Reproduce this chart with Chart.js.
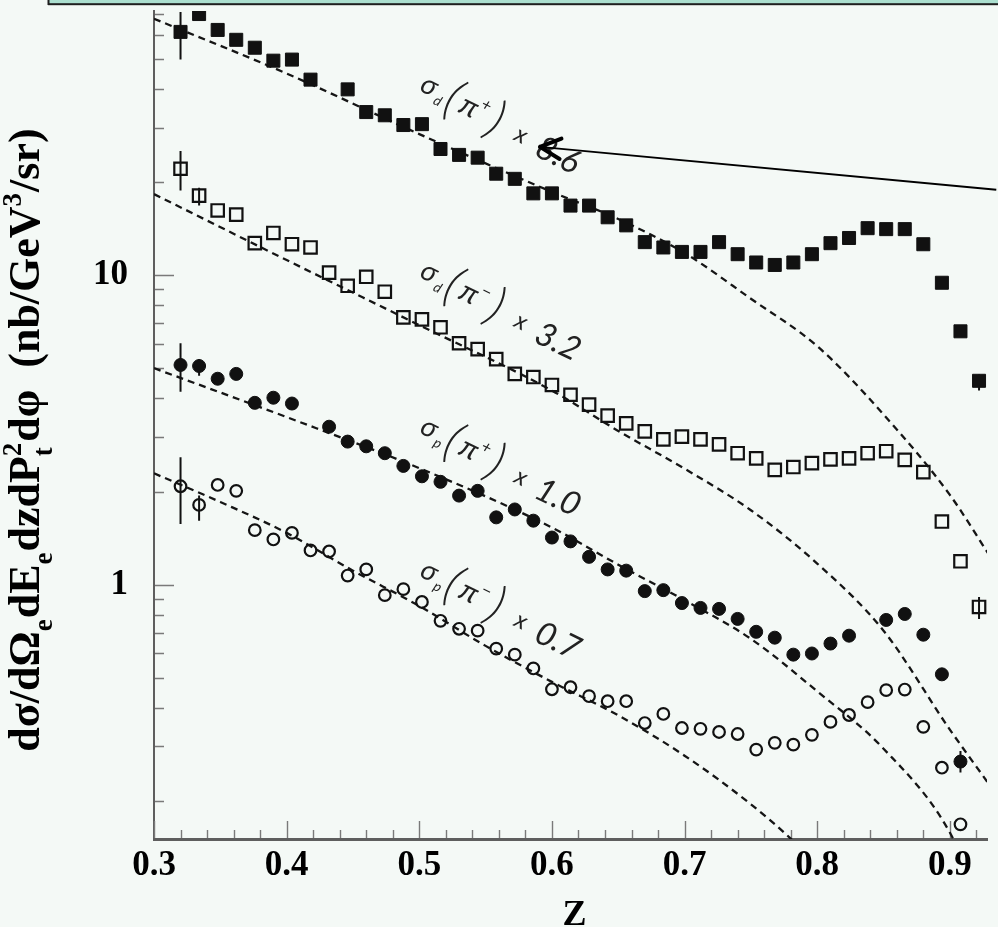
<!DOCTYPE html>
<html>
<head>
<meta charset="utf-8">
<title>Pion cross sections vs z</title>
<script src="https://cdn.jsdelivr.net/npm/chart.js@4.4.1/dist/chart.umd.min.js"></script>
<style>
  html, body { margin: 0; padding: 0; background: #f4f9f6; overflow: hidden; }
  #wrap { width: 998px; height: 927px; position: relative; }
  canvas { display: block; }
</style>
</head>
<body>
<div id="wrap"><canvas id="zChart" width="998" height="927"></canvas></div>
<script>
// z bins shared by the four measured sets
const zBins = [0.320, 0.334, 0.348, 0.362, 0.376, 0.390, 0.404, 0.418, 0.432, 0.446,
  0.460, 0.474, 0.488, 0.502, 0.516, 0.530, 0.544, 0.558, 0.572, 0.586,
  0.600, 0.614, 0.628, 0.642, 0.656, 0.670, 0.684, 0.698, 0.712, 0.726,
  0.740, 0.754, 0.768, 0.782, 0.796, 0.810, 0.824, 0.838, 0.852, 0.866,
  0.880, 0.894, 0.908, 0.922];

// sigma_d(pi+) x 8.6  (filled squares)
const sigmaDPiPlus = [61.2, 69.9, 62.1, 57.7, 54.4, 49.4, 49.8, 42.9, null, 39.9,
  33.7, 32.9, 30.6, 30.8, 25.6, 24.5, 24.0, 21.3, 20.5, 18.4,
  18.4, 16.8, 16.8, 15.4, 14.5, 12.8, 12.3, 11.9, 11.9, 12.8,
  11.7, 11.0, 10.8, 11.0, 11.7, 12.7, 13.2, 14.2, 14.1, 14.1,
  12.6, 9.46, 6.59, 4.56];

// sigma_d(pi-) x 3.2  (open squares)
const sigmaDPiMinus = [22.1, 18.1, 16.2, 15.7, 12.7, 13.7, 12.6, 12.3, 10.2, 9.25,
  9.89, 8.85, 7.31, 7.20, 6.79, 6.03, 5.77, 5.36, 4.80, 4.69,
  4.42, 4.11, 3.82, 3.52, 3.32, 3.13, 2.95, 3.01, 2.95, 2.84,
  2.66, 2.56, 2.35, 2.40, 2.47, 2.54, 2.56, 2.66, 2.70, 2.53,
  2.31, 1.60, 1.19, 0.847];

// sigma_p(pi+) x 1.0  (filled circles)
const sigmaPPiPlus = [5.13, 5.09, 4.63, 4.80, 3.87, 4.02, 3.85, null, 3.24, 2.90,
  2.80, 2.66, 2.42, 2.24, 2.15, 1.94, 2.01, 1.65, 1.75, 1.61,
  1.42, 1.38, 1.23, 1.12, 1.11, 0.953, 0.960, 0.872, 0.841, 0.835,
  0.775, 0.704, 0.674, 0.594, 0.599, 0.645, 0.684, null, 0.769, 0.804,
  0.689, 0.513, 0.268, null];

// sigma_p(pi-) x 0.7  (open circles)
const sigmaPPiMinus = [2.08, 1.81, 2.10, 2.01, 1.50, 1.40, 1.47, 1.29, 1.28, 1.07,
  1.12, 0.925, 0.967, 0.879, 0.764, 0.720, 0.710, 0.621, 0.594, 0.536,
  0.459, 0.466, 0.436, 0.420, 0.420, 0.357, 0.382, 0.344, 0.342, 0.334,
  0.329, 0.293, 0.308, 0.304, 0.327, 0.360, 0.379, 0.417, 0.456, 0.458,
  0.347, 0.256, 0.168, null];

// error bars that stick out of the markers: [set, bin, low, high]
const errorBars = [
  [0, 0, 49.8, 71.0], [0, 43, 4.24, 4.78],
  [1, 0, 18.8, 25.2], [1, 1, 16.8, 19.2], [1, 43, 0.775, 0.912],
  [2, 0, 4.20, 6.03], [2, 1, 4.73, 5.36], [2, 42, 0.247, 0.290],
  [3, 0, 1.57, 2.58], [3, 1, 1.61, 1.94]
];

// dashed model curves
const fitDPlusZ = [0.30, 0.40, 0.50, 0.60, 0.65, 0.70, 0.75, 0.80, 0.85, 0.90, 0.93];
const fitDPlusVal = [67.5, 44.9, 28.6, 18.6, 15.2, 11.8, 8.4, 5.9, 3.55, 1.95, 1.24];
const fitDMinusZ = [0.30, 0.40, 0.50, 0.60, 0.65, 0.70, 0.75, 0.80, 0.85, 0.90, 0.93];
const fitDMinusVal = [18.3, 11.2, 6.90, 4.24, 3.14, 2.37, 1.74, 1.17, 0.71, 0.34, 0.225];
const fitPPlusZ = [0.30, 0.40, 0.50, 0.60, 0.65, 0.70, 0.75, 0.80, 0.85, 0.90, 0.92];
const fitPPlusVal = [5.01, 3.48, 2.38, 1.53, 1.16, 0.89, 0.668, 0.452, 0.295, 0.158, 0.10];
const fitPMinusZ = [0.30, 0.35, 0.40, 0.45, 0.50, 0.55, 0.60, 0.65, 0.70, 0.75, 0.78, 0.80];
const fitPMinusVal = [2.29, 1.85, 1.47, 1.11, 0.853, 0.634, 0.485, 0.378, 0.280, 0.195, 0.151, 0.123];

// axis ticks
const xTickValues = [0.3, 0.4, 0.5, 0.6, 0.7, 0.8, 0.9];
const xTickLabels = ['0.3', '0.4', '0.5', '0.6', '0.7', '0.8', '0.9'];
const yTickValues = [1, 10];
const yTickLabels = ['1', '10'];

// curve labels: sub index, charge, scale factor, anchor (z, value)
const curveLabels = [
  ['d', '+', '8.6', 0.507, 40.5],
  ['d', '−', '3.2', 0.507, 10.1],
  ['p', '+', '1.0', 0.507, 3.17],
  ['p', '−', '0.7', 0.507, 1.09]
];
// arrow pointing at the first label: tip and tail as (z, value)
const arrowTip = [0.591, 26.0];
const arrowTail = [0.935, 18.9];

const SERIF = '"Liberation Serif", "Times New Roman", serif';
const BG = '#f4f9f6';

function toPoints(values) {
  return zBins.map((z, i) => ({ x: z, y: values[i] })).filter(p => p.y !== null);
}
function curvePoints(zs, vals) {
  return zs.map((z, i) => ({ x: z, y: vals[i] }));
}

function markerSet(values, style, filled, radius) {
  return {
    type: 'scatter',
    data: toPoints(values),
    pointStyle: style,
    pointRadius: radius,
    pointHoverRadius: radius,
    pointBackgroundColor: filled ? '#111' : 'rgba(0,0,0,0)',
    pointBorderColor: '#111',
    pointBorderWidth: filled ? 1 : 2.2,
    showLine: false
  };
}
function dashedCurve(zs, vals) {
  return {
    type: 'line',
    data: curvePoints(zs, vals),
    borderColor: '#151515',
    borderWidth: 2.3,
    borderDash: [7, 5],
    pointRadius: 0,
    cubicInterpolationMode: 'monotone',
    fill: false
  };
}

function drawSigmaLabel(ctx, px, py, sub, charge, factor) {
  const hand = size => `italic ${size}px Lato, "DejaVu Sans", sans-serif`;
  const thin = size => `italic 300 ${size}px Lato, "DejaVu Sans", sans-serif`;
  ctx.save();
  ctx.translate(px, py);
  ctx.rotate(26 * Math.PI / 180);
  ctx.fillStyle = '#222';
  ctx.textAlign = 'center';
  ctx.textBaseline = 'alphabetic';
  ctx.font = hand(28); ctx.fillText('σ', 0, 7);
  ctx.font = hand(14); ctx.fillText(sub, 14, 13);
  ctx.font = thin(50); ctx.fillText('(', 27, 16);
  ctx.font = hand(30); ctx.fillText('π', 45, 9);
  ctx.font = hand(17); ctx.fillText(charge, 60, -4);
  ctx.font = thin(50); ctx.fillText(')', 75, 16);
  ctx.font = hand(24); ctx.fillText('x', 104, 10);
  ctx.font = hand(33); ctx.fillText(factor, 146, 15);
  ctx.restore();
}

function drawYTitle(ctx, baseX, centerY) {
  const size = 44;
  const main = `bold ${size}px ${SERIF}`;
  const small = `bold ${Math.round(size * 0.62)}px ${SERIF}`;
  // text, shift (0 = normal, 1 = subscript, -1 = superscript), stacked superscript
  const parts = [
    ['dσ/dΩ', 0], ['e', 1], ['dE', 0], ['e', 1], ['dzdP', 0], ['t', 1, '2'],
    ['dφ  (nb/GeV', 0], ['3', -1], ['/sr)', 0]
  ];
  ctx.save();
  const widths = parts.map(p => {
    ctx.font = p[1] ? small : main;
    let w = ctx.measureText(p[0]).width;
    if (p[2]) w = Math.max(w, ctx.measureText(p[2]).width);
    return w + (p[1] ? 1 : 0);
  });
  const total = widths.reduce((a, b) => a + b, 0);
  ctx.translate(baseX, centerY);
  ctx.rotate(-Math.PI / 2);
  ctx.fillStyle = '#000';
  ctx.textBaseline = 'alphabetic';
  ctx.textAlign = 'left';
  let pos = -total / 2;
  parts.forEach((p, i) => {
    ctx.font = p[1] ? small : main;
    const dy = p[1] === 1 ? size * 0.3 : (p[1] === -1 ? -size * 0.42 : 0);
    ctx.fillText(p[0], pos, dy);
    if (p[2]) ctx.fillText(p[2], pos, -size * 0.42);
    pos += widths[i];
  });
  ctx.restore();
}

const decorations = {
  id: 'decorations',
  beforeDraw(chart) {
    const { ctx, width, height } = chart;
    ctx.save();
    ctx.fillStyle = BG;
    ctx.fillRect(0, 0, width, height);
    ctx.restore();
  },
  beforeDatasetsDraw(chart) {
    const { ctx, chartArea, scales: { x, y } } = chart;
    ctx.save();
    ctx.strokeStyle = '#7a7a7a';
    ctx.lineWidth = 1.4;
    ctx.beginPath();
    // x ticks every 0.02, longer on the labelled ones
    for (let i = 15; i * 0.02 <= x.max + 1e-9; i++) {
      const v = i * 0.02;
      const px = Math.round(x.getPixelForValue(v)) + 0.5;
      const len = i % 5 === 0 ? 17 : 8;
      ctx.moveTo(px, chartArea.bottom - 1);
      ctx.lineTo(px, chartArea.bottom - 1 - len);
    }
    // log ticks on the y axis
    for (const decade of [0.1, 1, 10]) {
      for (let m = 1; m <= 9; m++) {
        const v = decade * m;
        if (v < y.min || v > y.max) continue;
        const py = Math.round(y.getPixelForValue(v)) + 0.5;
        const len = m === 1 ? 19 : 9;
        ctx.moveTo(chartArea.left + 1, py);
        ctx.lineTo(chartArea.left + 1 + len, py);
      }
    }
    ctx.stroke();

    // vertical error bars
    ctx.strokeStyle = '#111';
    ctx.lineWidth = 2;
    ctx.beginPath();
    for (const [, bin, lo, hi] of errorBars) {
      const px = x.getPixelForValue(zBins[bin]);
      ctx.moveTo(px, y.getPixelForValue(Math.min(hi, y.max)));
      ctx.lineTo(px, y.getPixelForValue(lo));
    }
    ctx.stroke();
    ctx.restore();
  },
  afterDatasetsDraw(chart) {
    const { ctx, chartArea, scales: { x, y } } = chart;
    ctx.save();

    curveLabels.forEach(([sub, charge, factor, z, v]) => {
      drawSigmaLabel(ctx, x.getPixelForValue(z), y.getPixelForValue(v), sub, charge, factor);
    });

    // arrow to the top label
    const tx = x.getPixelForValue(arrowTip[0]), ty = y.getPixelForValue(arrowTip[1]);
    const ex = x.getPixelForValue(arrowTail[0]), ey = y.getPixelForValue(arrowTail[1]);
    ctx.strokeStyle = '#000';
    ctx.lineWidth = 1.8;
    ctx.beginPath();
    ctx.moveTo(tx, ty);
    ctx.lineTo(ex, ey);
    ctx.stroke();
    const ang = Math.atan2(ey - ty, ex - tx);
    ctx.lineWidth = 4;
    ctx.lineCap = 'round';
    ctx.beginPath();
    for (const s of [-1, 1]) {
      ctx.moveTo(tx, ty);
      ctx.lineTo(tx + 23 * Math.cos(ang + s * 0.46), ty + 23 * Math.sin(ang + s * 0.46));
    }
    ctx.stroke();

    // axis titles
    drawYTitle(ctx, 39, 440);
    ctx.fillStyle = '#000';
    ctx.font = `bold 36px ${SERIF}`;
    ctx.textAlign = 'center';
    ctx.textBaseline = 'alphabetic';
    ctx.fillText('Z', (chartArea.left + chartArea.right) / 2 + 4, 925);

    // caption box edge along the top
    ctx.fillStyle = '#abdfcf';
    ctx.fillRect(48, 0, 950, 4);
    ctx.fillStyle = '#1e1e1e';
    ctx.fillRect(48, 3.2, 950, 2);
    ctx.fillRect(47.5, 0, 2, 5);
    ctx.restore();
  }
};

const ctx = document.getElementById('zChart').getContext('2d');
new Chart(ctx, {
  data: {
    datasets: [
      markerSet(sigmaDPiPlus, 'rect', true, 9.2),
      markerSet(sigmaDPiMinus, 'rect', false, 8.8),
      markerSet(sigmaPPiPlus, 'circle', true, 6.5),
      markerSet(sigmaPPiMinus, 'circle', false, 5.8),
      dashedCurve(fitDPlusZ, fitDPlusVal),
      dashedCurve(fitDMinusZ, fitDMinusVal),
      dashedCurve(fitPPlusZ, fitPPlusVal),
      dashedCurve(fitPMinusZ, fitPMinusVal)
    ]
  },
  options: {
    responsive: false,
    devicePixelRatio: 1,
    animation: false,
    layout: { padding: { top: 4, left: 0, right: 0, bottom: 0 } },
    plugins: { legend: { display: false }, tooltip: { enabled: false } },
    scales: {
      x: {
        type: 'linear',
        position: 'bottom',
        min: 0.3,
        max: 0.928,
        afterFit: s => { s.height = 88; s.paddingLeft = 0; s.paddingRight = 0; },
        afterBuildTicks: s => { s.ticks = xTickValues.map(v => ({ value: v })); },
        grid: { display: false, drawTicks: false },
        border: { display: true, color: '#5e5e5e', width: 3 },
        ticks: {
          callback: (v, i) => xTickLabels[i],
          font: { family: SERIF, weight: 'bold', size: 35 },
          color: '#000',
          padding: 6,
          maxRotation: 0,
          autoSkip: false
        }
      },
      y: {
        type: 'logarithmic',
        position: 'left',
        min: 0.1506,
        max: 71.5,
        // labels sit well left of the axis; keep that gap out of the vertical padding
        afterFit: s => { s.width = 154; s.paddingTop = 0; s.paddingBottom = 0; },
        afterBuildTicks: s => { s.ticks = yTickValues.map(v => ({ value: v })); },
        grid: { display: false, drawTicks: false },
        border: { display: true, color: '#5e5e5e', width: 2 },
        ticks: {
          callback: (v, i) => yTickLabels[i],
          font: { family: SERIF, weight: 'bold', size: 35 },
          color: '#000',
          padding: 26,
          autoSkip: false
        }
      }
    }
  },
  plugins: [decorations]
});
</script>
</body>
</html>
